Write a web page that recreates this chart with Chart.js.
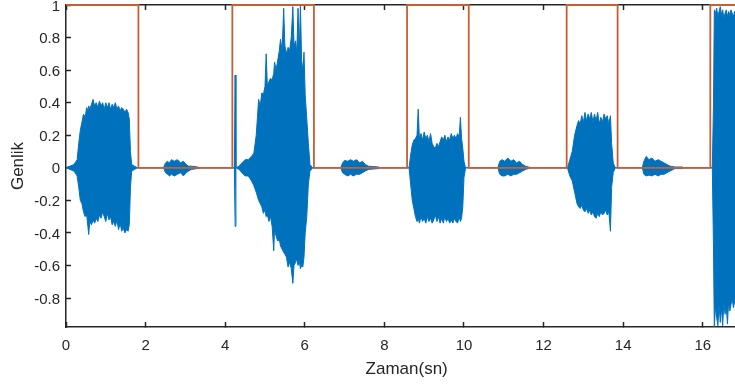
<!DOCTYPE html>
<html>
<head>
<meta charset="utf-8">
<script src="https://cdn.jsdelivr.net/npm/chart.js@4.4.1/dist/chart.umd.min.js"></script>
<style>
html,body{margin:0;padding:0;background:#fff;}
#c{display:block;width:735px;height:385px;}
</style>
</head>
<body>
<canvas id="c" width="735" height="385"></canvas>
<script>
// ---- Axis labels / ticks ----
const xTitle = 'Zaman(sn)';
const yTitle = 'Genlik';
const xTickStep = 2;      // 0,2,...,16
const yTickStep = 0.2;    // -0.8 ... 1
const xRange = [0, 16.81];      // visible part of the (cropped) time axis
const xAxisFullMax = 17.12;     // full axis extent of the original figure (used to centre the x title)
const yRange = [-0.978, 1];

// ---- Rectangular (orange) marker signal: edge times and level after each edge ----
const markerEdges  = [0, 1.82, 4.18, 6.23, 8.57, 10.12, 12.58, 13.86, 16.19, 16.81];
const markerLevels = [1, 0,    1,    0,    1,    0,     1,     0,     1,     1];

// ---- Waveform envelope: [time (s), upper, lower] ----
const burst1 = [[0,0,0],[0.10,0.01,-0.01],[0.20,0.02,-0.02],[0.28,0.05,-0.05],[0.32,0.15,-0.12],[0.36,0.23,-0.20],[0.40,0.28,-0.22],[0.44,0.33,-0.27],[0.48,0.31,-0.30],[0.52,0.37,-0.29],[0.55,0.35,-0.36],[0.57,0.38,-0.41],[0.60,0.36,-0.33],[0.64,0.39,-0.35],[0.68,0.42,-0.32],[0.72,0.38,-0.34],[0.76,0.40,-0.31],[0.80,0.37,-0.33],[0.84,0.41,-0.29],[0.88,0.38,-0.31],[0.92,0.40,-0.27],[0.96,0.36,-0.30],[1.00,0.40,-0.33],[1.04,0.37,-0.28],[1.08,0.40,-0.32],[1.12,0.36,-0.30],[1.16,0.39,-0.35],[1.20,0.37,-0.33],[1.24,0.40,-0.36],[1.28,0.36,-0.32],[1.32,0.38,-0.38],[1.36,0.35,-0.34],[1.40,0.37,-0.39],[1.44,0.36,-0.37],[1.48,0.34,-0.40],[1.52,0.36,-0.38],[1.56,0.34,-0.39],[1.59,0.30,-0.35],[1.62,0.10,-0.12],[1.65,0.02,-0.02],[1.72,0.01,-0.01],[1.80,0,0]];
const quiet1 = [[2.45,0,0],[2.50,0.03,-0.03],[2.55,0.04,-0.04],[2.60,0.03,-0.05],[2.65,0.05,-0.04],[2.72,0.04,-0.05],[2.80,0.05,-0.04],[2.88,0.03,-0.03],[2.95,0.04,-0.05],[3.02,0.02,-0.03],[3.08,0.01,-0.02],[3.15,0.01,-0.01],[3.30,0.005,-0.005],[3.40,0,0]];
const click1 = [[4.23,0,0],[4.25,0.57,-0.36],[4.27,0,0]];
const burst2 = [[4.35,0.01,-0.01],[4.42,0.03,-0.03],[4.50,0.05,-0.05],[4.58,0.05,-0.05],[4.66,0.07,-0.08],[4.72,0.09,-0.11],[4.78,0.20,-0.15],[4.84,0.42,-0.20],[4.88,0.38,-0.22],[4.92,0.46,-0.24],[4.96,0.45,-0.28],[5.00,0.50,-0.26],[5.03,0.70,-0.30],[5.06,0.50,-0.29],[5.10,0.53,-0.33],[5.14,0.55,-0.30],[5.18,0.54,-0.36],[5.22,0.58,-0.51],[5.24,0.65,-0.38],[5.28,0.60,-0.42],[5.32,0.66,-0.45],[5.36,0.72,-0.44],[5.39,0.79,-0.48],[5.43,0.72,-0.50],[5.47,0.98,-0.52],[5.50,0.75,-0.53],[5.54,0.70,-0.55],[5.58,0.74,-0.61],[5.62,0.72,-0.58],[5.66,0.80,-0.62],[5.70,0.99,-0.71],[5.73,0.75,-0.60],[5.77,0.78,-0.58],[5.80,0.70,-0.56],[5.83,0.98,-0.60],[5.86,0.70,-0.57],[5.89,1.00,-0.62],[5.92,0.66,-0.60],[5.95,0.60,-0.61],[5.98,0.71,-0.55],[6.01,0.45,-0.40],[6.05,0.30,-0.30],[6.09,0.15,-0.10],[6.13,0.02,-0.02],[6.20,0,0]];
const quiet2 = [[6.90,0,0],[6.95,0.03,-0.03],[7.00,0.045,-0.04],[7.08,0.04,-0.05],[7.15,0.05,-0.04],[7.22,0.04,-0.05],[7.30,0.05,-0.04],[7.38,0.03,-0.04],[7.45,0.04,-0.03],[7.52,0.02,-0.02],[7.60,0.01,-0.01],[7.85,0.005,-0.005],[7.90,0,0]];
const burst3 = [[8.62,0,0],[8.66,0.08,-0.10],[8.70,0.14,-0.20],[8.74,0.17,-0.25],[8.78,0.18,-0.30],[8.82,0.20,-0.33],[8.85,0.36,-0.31],[8.88,0.18,-0.34],[8.92,0.21,-0.30],[8.96,0.17,-0.33],[9.00,0.22,-0.31],[9.04,0.18,-0.34],[9.08,0.20,-0.30],[9.12,0.16,-0.33],[9.16,0.21,-0.31],[9.20,0.15,-0.34],[9.24,0.13,-0.32],[9.28,0.12,-0.29],[9.32,0.15,-0.33],[9.36,0.13,-0.30],[9.40,0.16,-0.34],[9.44,0.19,-0.31],[9.48,0.17,-0.34],[9.52,0.20,-0.30],[9.56,0.16,-0.33],[9.60,0.19,-0.31],[9.64,0.17,-0.34],[9.68,0.21,-0.32],[9.72,0.18,-0.34],[9.76,0.20,-0.31],[9.80,0.18,-0.33],[9.84,0.21,-0.34],[9.88,0.19,-0.30],[9.91,0.31,-0.33],[9.94,0.18,-0.31],[9.97,0.12,-0.24],[10.00,0.04,-0.06],[10.04,0,0]];
const quiet3 = [[10.85,0,0],[10.90,0.04,-0.04],[10.96,0.05,-0.05],[11.02,0.04,-0.05],[11.10,0.06,-0.04],[11.18,0.04,-0.05],[11.25,0.05,-0.04],[11.32,0.03,-0.04],[11.40,0.04,-0.03],[11.47,0.02,-0.02],[11.55,0.01,-0.01],[11.62,0.005,-0.005],[11.70,0,0]];
const burst4 = [[12.60,0,0],[12.66,0.05,-0.05],[12.72,0.10,-0.08],[12.78,0.20,-0.15],[12.84,0.26,-0.22],[12.88,0.29,-0.24],[12.92,0.27,-0.25],[12.96,0.32,-0.23],[13.00,0.28,-0.26],[13.04,0.34,-0.27],[13.08,0.29,-0.25],[13.12,0.33,-0.28],[13.16,0.30,-0.26],[13.20,0.34,-0.29],[13.24,0.28,-0.27],[13.28,0.33,-0.30],[13.32,0.29,-0.31],[13.36,0.34,-0.28],[13.40,0.27,-0.30],[13.44,0.31,-0.27],[13.48,0.28,-0.29],[13.52,0.33,-0.28],[13.56,0.30,-0.26],[13.60,0.32,-0.29],[13.64,0.27,-0.27],[13.68,0.32,-0.39],[13.71,0.15,-0.12],[13.75,0.03,-0.03],[13.80,0,0]];
const quiet4 = [[14.48,0,0],[14.52,0.04,-0.04],[14.58,0.07,-0.05],[14.65,0.05,-0.045],[14.72,0.06,-0.05],[14.80,0.04,-0.04],[14.88,0.05,-0.05],[14.95,0.04,-0.04],[15.03,0.03,-0.04],[15.10,0.02,-0.03],[15.18,0.01,-0.02],[15.30,0.005,-0.005],[15.48,0.005,-0.005],[15.52,0,0]];
const burst5 = [[16.24,0,0],[16.27,0.40,-0.50],[16.29,0.97,-0.98],[16.32,0.95,-0.85],[16.35,0.98,-0.92],[16.38,0.93,-0.97],[16.41,0.96,-0.84],[16.44,0.99,-0.95],[16.47,0.94,-0.86],[16.50,0.97,-0.97],[16.53,0.92,-0.83],[16.56,0.95,-0.90],[16.59,0.97,-0.85],[16.62,0.93,-0.96],[16.65,0.96,-0.82],[16.68,0.94,-0.88],[16.71,0.97,-0.84],[16.74,0.95,-0.80],[16.77,0.93,-0.86],[16.80,0.96,-0.82],[16.83,0.94,-0.85]];

const waveRows = [].concat(burst1, quiet1, click1, burst2, quiet2, burst3, quiet3, burst4, quiet4, burst5);
const upperData = waveRows.map(r => ({x: r[0], y: r[1]}));
const lowerData = waveRows.map(r => ({x: r[0], y: r[2]}));
const markerData = markerEdges.map((t, i) => ({x: t, y: markerLevels[i]}));

const AX = '#262626';
const FONT = "'Liberation Sans', Arial, Helvetica, sans-serif";

// inward (MATLAB-style) tick marks drawn by the scales themselves
const inwardGrid = {display: true, drawOnChartArea: false, drawTicks: true, tickLength: -5, color: AX, tickColor: AX, tickWidth: 1.5};

// x-axis title centred on the full (uncropped) axis extent
const xTitlePlugin = {
  id: 'xTitlePlugin',
  afterDraw(chart) {
    const {ctx, scales} = chart;
    ctx.save();
    ctx.fillStyle = AX;
    ctx.font = '17px ' + FONT;
    ctx.textAlign = 'center';
    ctx.textBaseline = 'middle';
    ctx.fillText(xTitle, scales.x.getPixelForValue(xAxisFullMax / 2), 369);
    ctx.restore();
  }
};

new Chart(document.getElementById('c'), {
  type: 'line',
  data: {
    datasets: [
      {label: 'marker', data: markerData, borderColor: '#C95E34', borderWidth: 1.8, stepped: 'before', pointRadius: 0, fill: false, order: 0, clip: 3},
      {label: 'upper', data: upperData, borderColor: '#0072BD', backgroundColor: '#0072BD', borderWidth: 1, pointRadius: 0, fill: '+1', order: 1},
      {label: 'lower', data: lowerData, borderColor: '#0072BD', borderWidth: 1, pointRadius: 0, fill: false, order: 2}
    ]
  },
  options: {
    responsive: false,
    animation: false,
    events: [],
    layout: {padding: {left: 0, top: 4, right: 0, bottom: 0}},
    elements: {line: {tension: 0}},
    plugins: {legend: {display: false}, tooltip: {enabled: false}},
    scales: {
      x: {
        type: 'linear', position: 'bottom', min: xRange[0], max: xRange[1],
        grid: inwardGrid,
        border: {display: true, color: AX, width: 1.5},
        ticks: {stepSize: xTickStep, includeBounds: false, padding: 15, color: AX, maxRotation: 0, font: {family: FONT, size: 15}},
        title: {display: false},
        afterFit(s) { s.height = 58; s.paddingLeft = 0; s.paddingRight = 0; }
      },
      xTop: {
        type: 'linear', position: 'top', display: true, min: xRange[0], max: xRange[1],
        grid: inwardGrid,
        border: {display: true, color: AX, width: 1.5},
        ticks: {stepSize: xTickStep, includeBounds: false, display: false},
        afterFit(s) { s.height = 1; s.paddingLeft = 0; s.paddingRight = 0; }
      },
      y: {
        type: 'linear', position: 'left', min: yRange[0], max: yRange[1],
        grid: inwardGrid,
        border: {display: true, color: AX, width: 1.5},
        ticks: {stepSize: yTickStep, includeBounds: false, padding: 11, labelOffset: 1.5, color: AX, font: {family: FONT, size: 15},
                callback: v => String(Math.round(v * 10) / 10)},
        title: {display: true, text: yTitle, color: AX, font: {family: FONT, size: 17}, padding: {top: 8, bottom: 0}},
        afterFit(s) { s.width = 66; s.paddingTop = 0; s.paddingBottom = 0; }
      }
    }
  },
  plugins: [xTitlePlugin]
});
</script>
</body>
</html>
